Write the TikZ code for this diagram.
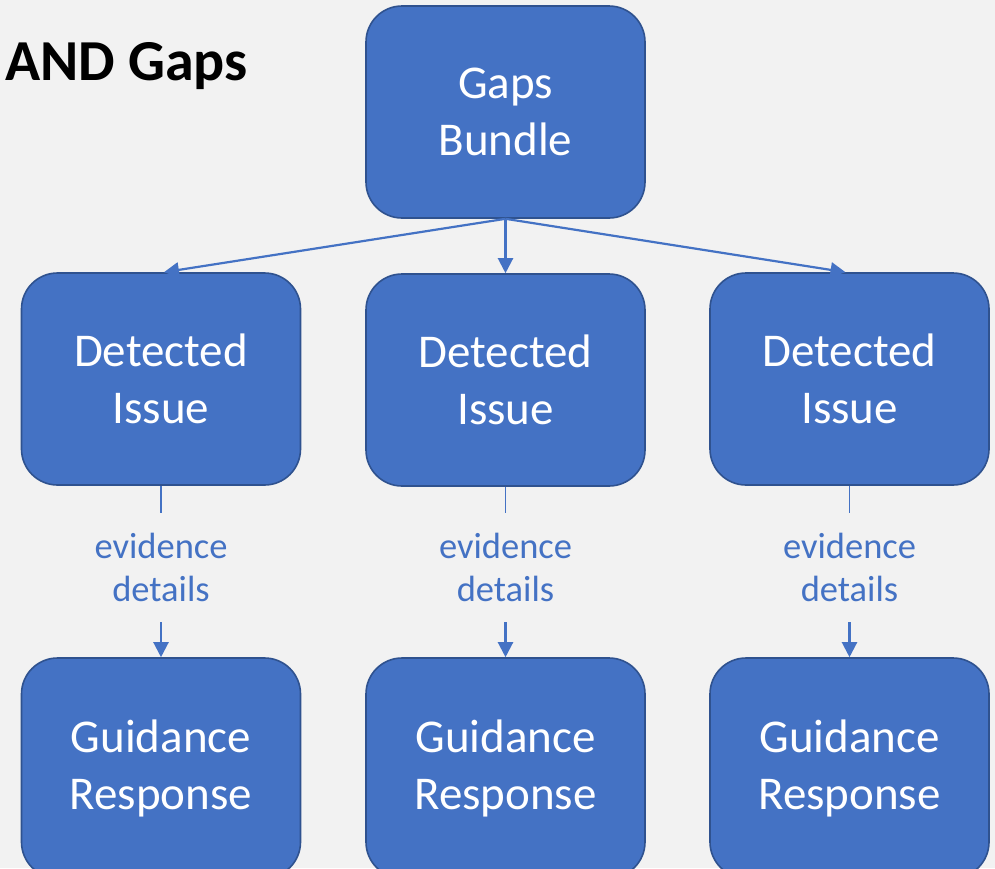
\documentclass[tikz,border=0pt]{standalone}
\usepackage{fontspec}
\setmainfont{Carlito}
\usetikzlibrary{arrows.meta}
\definecolor{bg}{HTML}{F2F2F2}
\definecolor{boxfill}{HTML}{4472C4}
\definecolor{boxline}{HTML}{2F528F}
\tikzset{
  blockbox/.style={draw=boxline, line width=1.6pt, fill=boxfill, rounded corners=36pt,
    minimum width=279pt, minimum height=212pt, inner sep=0pt, align=center,
    text=white, font=\fontsize{47}{57}\selectfont},
  conn/.style={draw=boxfill, line width=2.2pt},
  arr/.style={conn, -{Triangle[length=15pt,width=15pt]}},
  evlabel/.style={text=boxfill, align=center, inner sep=0pt, minimum height=109pt,
    font=\fontsize{36.5}{43}\selectfont}
}
\begin{document}
\begin{tikzpicture}[x=1pt,y=-1pt]
\useasboundingbox (0,0) rectangle (995,868);
\clip (0,0) rectangle (995,868);
\fill[bg] (0,0) rectangle (995,868);

\node[anchor=base west, inner sep=0pt, font=\fontsize{58}{70}\selectfont\bfseries] (title) at (5,80) {AND Gaps};

\node[blockbox] (gb) at (505.5,112) {Gaps\\Bundle};

\node[blockbox] (d1) at (161,379) {Detected\\Issue};
\node[blockbox] (d2) at (505.5,380) {Detected\\Issue};
\node[blockbox] (d3) at (849.5,379) {Detected\\Issue};

\node[blockbox, minimum height=220pt] (g1) at (161,768) {Guidance\\Response};
\node[blockbox, minimum height=220pt] (g2) at (505.5,768) {Guidance\\Response};
\node[blockbox, minimum height=220pt] (g3) at (849.5,768) {Guidance\\Response};

\node[evlabel] (e1) at (161,567.5) {evidence\\details};
\node[evlabel] (e2) at (505.5,567.5) {evidence\\details};
\node[evlabel] (e3) at (849.5,567.5) {evidence\\details};

\draw[arr] (gb.south) -- ([xshift=3pt]d1.north);
\draw[arr] (gb.south) -- (d2.north);
\draw[arr] (gb.south) -- ([xshift=-4pt]d3.north);

\draw[conn, line width=1.6pt] (d1.south) -- (e1.north);
\draw[conn, line width=1.6pt] (d2.south) -- (e2.north);
\draw[conn, line width=1.6pt] (d3.south) -- (e3.north);

\draw[arr] (e1.south) -- (g1.north);
\draw[arr] (e2.south) -- (g2.north);
\draw[arr] (e3.south) -- (g3.north);
\end{tikzpicture}
\end{document}
